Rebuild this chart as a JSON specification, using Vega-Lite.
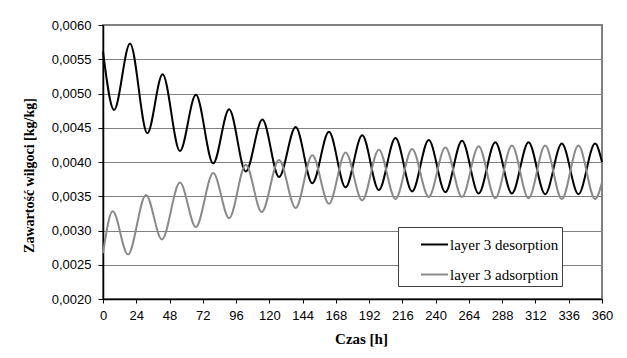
{
  "$schema": "https://vega.github.io/schema/vega-lite/v6.json",
  "autosize": {"type": "none"},
  "padding": {"left": 103, "top": 25, "right": 25, "bottom": 59},
  "width": 499,
  "height": 274,
  "background": "white",
  "config": {
    "view": {"stroke": "#808080", "strokeWidth": 2},
    "font": "Liberation Sans"
  },
  "data": {
    "values": [
      {"series": "layer 3 desorption", "t": 0, "v": 0.00561},
      {"series": "layer 3 desorption", "t": 8, "v": 0.00476},
      {"series": "layer 3 desorption", "t": 19.5, "v": 0.00573},
      {"series": "layer 3 desorption", "t": 32, "v": 0.00442},
      {"series": "layer 3 desorption", "t": 43, "v": 0.00528},
      {"series": "layer 3 desorption", "t": 55.5, "v": 0.00416},
      {"series": "layer 3 desorption", "t": 67, "v": 0.00498},
      {"series": "layer 3 desorption", "t": 79.5, "v": 0.00398},
      {"series": "layer 3 desorption", "t": 91, "v": 0.00477},
      {"series": "layer 3 desorption", "t": 103, "v": 0.00386},
      {"series": "layer 3 desorption", "t": 115, "v": 0.00462},
      {"series": "layer 3 desorption", "t": 127, "v": 0.00378},
      {"series": "layer 3 desorption", "t": 139, "v": 0.00451},
      {"series": "layer 3 desorption", "t": 151, "v": 0.00369},
      {"series": "layer 3 desorption", "t": 163, "v": 0.00444},
      {"series": "layer 3 desorption", "t": 175, "v": 0.00363},
      {"series": "layer 3 desorption", "t": 187, "v": 0.00439},
      {"series": "layer 3 desorption", "t": 199, "v": 0.00359},
      {"series": "layer 3 desorption", "t": 211, "v": 0.00435},
      {"series": "layer 3 desorption", "t": 223, "v": 0.00357},
      {"series": "layer 3 desorption", "t": 235, "v": 0.00432},
      {"series": "layer 3 desorption", "t": 247, "v": 0.00356},
      {"series": "layer 3 desorption", "t": 259, "v": 0.00431},
      {"series": "layer 3 desorption", "t": 271, "v": 0.00354},
      {"series": "layer 3 desorption", "t": 283, "v": 0.00429},
      {"series": "layer 3 desorption", "t": 295, "v": 0.00354},
      {"series": "layer 3 desorption", "t": 307, "v": 0.00429},
      {"series": "layer 3 desorption", "t": 319, "v": 0.00353},
      {"series": "layer 3 desorption", "t": 331, "v": 0.00427},
      {"series": "layer 3 desorption", "t": 343, "v": 0.00353},
      {"series": "layer 3 desorption", "t": 355, "v": 0.00427},
      {"series": "layer 3 desorption", "t": 360, "v": 0.00400},
      {"series": "layer 3 adsorption", "t": 0, "v": 0.00267},
      {"series": "layer 3 adsorption", "t": 7, "v": 0.00328},
      {"series": "layer 3 adsorption", "t": 18, "v": 0.00265},
      {"series": "layer 3 adsorption", "t": 31, "v": 0.00352},
      {"series": "layer 3 adsorption", "t": 42.5, "v": 0.00287},
      {"series": "layer 3 adsorption", "t": 55.5, "v": 0.00370},
      {"series": "layer 3 adsorption", "t": 67, "v": 0.00305},
      {"series": "layer 3 adsorption", "t": 79.5, "v": 0.00384},
      {"series": "layer 3 adsorption", "t": 91, "v": 0.00318},
      {"series": "layer 3 adsorption", "t": 103, "v": 0.00396},
      {"series": "layer 3 adsorption", "t": 114.5, "v": 0.00327},
      {"series": "layer 3 adsorption", "t": 127, "v": 0.00403},
      {"series": "layer 3 adsorption", "t": 139, "v": 0.00333},
      {"series": "layer 3 adsorption", "t": 151, "v": 0.00410},
      {"series": "layer 3 adsorption", "t": 163, "v": 0.00339},
      {"series": "layer 3 adsorption", "t": 175, "v": 0.00414},
      {"series": "layer 3 adsorption", "t": 187, "v": 0.00344},
      {"series": "layer 3 adsorption", "t": 199, "v": 0.00418},
      {"series": "layer 3 adsorption", "t": 211, "v": 0.00346},
      {"series": "layer 3 adsorption", "t": 223, "v": 0.00419},
      {"series": "layer 3 adsorption", "t": 235, "v": 0.00349},
      {"series": "layer 3 adsorption", "t": 247, "v": 0.00421},
      {"series": "layer 3 adsorption", "t": 259, "v": 0.00349},
      {"series": "layer 3 adsorption", "t": 271, "v": 0.00423},
      {"series": "layer 3 adsorption", "t": 283, "v": 0.00347},
      {"series": "layer 3 adsorption", "t": 295, "v": 0.00424},
      {"series": "layer 3 adsorption", "t": 307, "v": 0.00347},
      {"series": "layer 3 adsorption", "t": 319, "v": 0.00424},
      {"series": "layer 3 adsorption", "t": 331, "v": 0.00346},
      {"series": "layer 3 adsorption", "t": 343, "v": 0.00424},
      {"series": "layer 3 adsorption", "t": 355, "v": 0.00346},
      {"series": "layer 3 adsorption", "t": 360, "v": 0.00370}
    ]
  },
  "mark": {"type": "line", "interpolate": "monotone", "strokeWidth": 2},
  "encoding": {
    "x": {
      "field": "t",
      "type": "quantitative",
      "scale": {"domain": [0, 360], "nice": false, "zero": false},
      "axis": {
        "title": "Czas [h]",
        "values": [0, 24, 48, 72, 96, 120, 144, 168, 192, 216, 240, 264, 288, 312, 336, 360],
        "grid": false,
        "domainColor": "black",
        "domainWidth": 1.5,
        "tickColor": "black",
        "tickSize": 4,
        "labelFont": "Liberation Sans",
        "labelFontSize": 13,
        "labelColor": "black",
        "labelPadding": 6,
        "labelFlush": false,
        "titleFont": "Liberation Serif",
        "titleFontSize": 15,
        "titleFontWeight": "bold",
        "titleColor": "black",
        "titleX": 258,
        "titlePadding": 9
      }
    },
    "y": {
      "field": "v",
      "type": "quantitative",
      "scale": {"domain": [0.002, 0.006], "nice": false, "zero": false},
      "axis": {
        "title": "Zawartość wilgoci [kg/kg]",
        "values": [0.002, 0.0025, 0.003, 0.0035, 0.004, 0.0045, 0.005, 0.0055, 0.006],
        "labelExpr": "replace(format(datum.value, '.4f'), '.', ',')",
        "grid": true,
        "gridColor": "#808080",
        "gridWidth": 1,
        "gridOpacity": 1,
        "domainColor": "black",
        "domainWidth": 1.5,
        "tickColor": "black",
        "tickSize": 5,
        "labelFont": "Liberation Sans",
        "labelFontSize": 13,
        "labelColor": "black",
        "labelPadding": 7,
        "labelFlush": false,
        "titleFont": "Liberation Serif",
        "titleFontSize": 14,
        "titleFontWeight": "bold",
        "titleColor": "black",
        "titleAngle": 270,
        "titleX": -74,
        "titleY": 150,
        "titleAlign": "center",
        "titleBaseline": "middle"
      }
    },
    "color": {
      "field": "series",
      "type": "nominal",
      "scale": {
        "domain": ["layer 3 desorption", "layer 3 adsorption"],
        "range": ["#000000", "#8a8a8a"]
      },
      "legend": {
        "title": null,
        "orient": "none",
        "legendX": 295,
        "legendY": 202,
        "fillColor": "white",
        "strokeColor": "#404040",
        "padding": 3,
        "symbolType": "stroke",
        "symbolSize": 729,
        "symbolStrokeWidth": 2,
        "symbolOffset": 19,
        "labelOffset": 1,
        "labelFont": "Liberation Serif",
        "labelFontSize": 15,
        "labelColor": "black",
        "labelExpr": "datum.label + '\u00a0\u00a0\u00a0\u00a0\u00a0\u00a0\u00a0\u00a0\u00a0'",
        "rowPadding": 7
      }
    }
  }
}
